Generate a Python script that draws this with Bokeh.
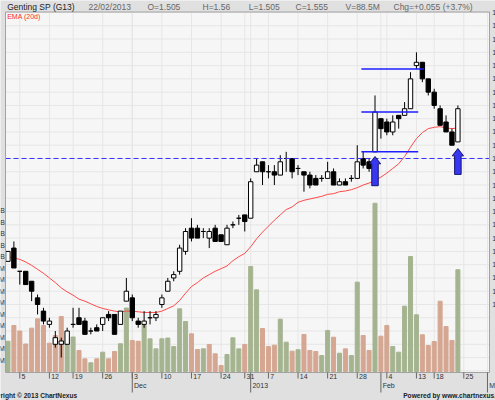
from bokeh.plotting import figure
from bokeh.models import Range1d, Grid
from bokeh.core.properties import value
from bokeh.embed import file_html
from bokeh.resources import INLINE

# ---------------- data ----------------
trade_dates = [
    "2012-11-01", "2012-11-02", "2012-11-05", "2012-11-06", "2012-11-07", "2012-11-08", "2012-11-09",
    "2012-11-12", "2012-11-14", "2012-11-15", "2012-11-16", "2012-11-19", "2012-11-20", "2012-11-21",
    "2012-11-22", "2012-11-23", "2012-11-26", "2012-11-27", "2012-11-28", "2012-11-29", "2012-11-30",
    "2012-12-03", "2012-12-04", "2012-12-05", "2012-12-06", "2012-12-07", "2012-12-10", "2012-12-11",
    "2012-12-12", "2012-12-13", "2012-12-14", "2012-12-17", "2012-12-18", "2012-12-19", "2012-12-20",
    "2012-12-21", "2012-12-24", "2012-12-26", "2012-12-27", "2012-12-28", "2012-12-31", "2013-01-02",
    "2013-01-03", "2013-01-04", "2013-01-07", "2013-01-08", "2013-01-09", "2013-01-10", "2013-01-11",
    "2013-01-14", "2013-01-15", "2013-01-16", "2013-01-17", "2013-01-18", "2013-01-21", "2013-01-22",
    "2013-01-23", "2013-01-24", "2013-01-25", "2013-01-28", "2013-01-29", "2013-01-30", "2013-01-31",
    "2013-02-01", "2013-02-04", "2013-02-05", "2013-02-06", "2013-02-07", "2013-02-08", "2013-02-13",
    "2013-02-14", "2013-02-15", "2013-02-18", "2013-02-19", "2013-02-20", "2013-02-21", "2013-02-22",
]
future_dates = ["2013-02-25", "2013-02-26", "2013-02-27", "2013-02-28", "2013-03-01"]

opens = [
    1.325, 1.345, 1.31, 1.31, 1.295, 1.27, 1.25, 1.23, 1.20, 1.20, 1.20, 1.23, 1.24, 1.235,
    1.22, 1.225, 1.23, 1.245, 1.245, 1.23, 1.265, 1.27, 1.235, 1.23, 1.24, 1.24, 1.26, 1.28,
    1.30, 1.31, 1.34, 1.375, 1.375, 1.37, 1.36, 1.375, 1.365, 1.35, 1.38, 1.39, 1.395, 1.39,
    1.46, 1.475, 1.46, 1.46, 1.455, 1.48, 1.48, 1.465, 1.46, 1.455, 1.45, 1.45, 1.45, 1.46,
    1.44, 1.445, 1.45, 1.45, 1.48, 1.475, 1.49, 1.54, 1.535, 1.52, 1.545, 1.545, 1.555, 1.62,
    1.625, 1.60, 1.58, 1.555, 1.535, 1.52, 1.505,
]
highs = [
    1.34, 1.355, 1.31, 1.31, 1.295, 1.275, 1.255, 1.24, 1.22, 1.21, 1.225, 1.255, 1.255, 1.24,
    1.225, 1.23, 1.24, 1.25, 1.245, 1.25, 1.30, 1.275, 1.24, 1.25, 1.25, 1.25, 1.275, 1.30,
    1.31, 1.35, 1.375, 1.39, 1.38, 1.375, 1.375, 1.38, 1.365, 1.38, 1.385, 1.395, 1.395, 1.45,
    1.48, 1.475, 1.47, 1.47, 1.485, 1.49, 1.48, 1.47, 1.46, 1.46, 1.455, 1.455, 1.475, 1.465,
    1.45, 1.45, 1.455, 1.50, 1.49, 1.48, 1.575, 1.54, 1.54, 1.545, 1.545, 1.565, 1.61, 1.64,
    1.625, 1.60, 1.585, 1.56, 1.545, 1.525, 1.56,
]
lows = [
    1.325, 1.315, 1.29, 1.29, 1.265, 1.245, 1.23, 1.225, 1.195, 1.18, 1.20, 1.225, 1.23, 1.215,
    1.215, 1.22, 1.22, 1.235, 1.215, 1.23, 1.265, 1.235, 1.225, 1.225, 1.23, 1.235, 1.255, 1.28,
    1.295, 1.305, 1.335, 1.355, 1.36, 1.36, 1.345, 1.355, 1.355, 1.35, 1.375, 1.38, 1.37, 1.39,
    1.46, 1.44, 1.45, 1.44, 1.455, 1.46, 1.45, 1.455, 1.43, 1.435, 1.44, 1.445, 1.45, 1.44,
    1.44, 1.44, 1.445, 1.45, 1.465, 1.46, 1.49, 1.51, 1.515, 1.515, 1.525, 1.545, 1.555, 1.615,
    1.595, 1.575, 1.555, 1.53, 1.52, 1.50, 1.505,
]
closes = [
    1.34, 1.315, 1.31, 1.29, 1.28, 1.26, 1.235, 1.235, 1.21, 1.205, 1.22, 1.23, 1.23, 1.215,
    1.22, 1.22, 1.24, 1.24, 1.215, 1.25, 1.28, 1.24, 1.23, 1.235, 1.24, 1.245, 1.27, 1.295,
    1.305, 1.345, 1.37, 1.36, 1.36, 1.37, 1.37, 1.355, 1.355, 1.375, 1.38, 1.39, 1.385, 1.445,
    1.47, 1.46, 1.46, 1.455, 1.475, 1.48, 1.46, 1.465, 1.455, 1.44, 1.44, 1.45, 1.46, 1.44,
    1.445, 1.44, 1.45, 1.475, 1.47, 1.465, 1.55, 1.525, 1.52, 1.535, 1.54, 1.555, 1.60, 1.625,
    1.60, 1.58, 1.56, 1.53, 1.52, 1.50, 1.555,
]
volume_m = [
    26.3, 40.0, 35.2, 23.9, 37.7, 45.8, 40.0, 24.6, 31.3, 47.8, 33.5, 30.0, 18.3, 11.0,
    7.6, 11.0, 16.8, 11.0, 17.4, 24.1, 55.2, 27.0, 26.3, 40.0, 28.4, 19.7, 28.4, 29.1,
    21.7, 54.5, 43.5, 32.8, 19.1, 19.7, 23.5, 15.4, 5.2, 14.8, 29.3, 19.7, 23.5, 91.3,
    71.0, 37.4, 21.7, 22.9, 45.5, 25.5, 17.7, 18.9, 32.2, 18.3, 17.4, 13.9, 35.7, 29.8,
    15.9, 19.7, 13.9, 77.7, 31.3, 18.3, 146.3, 30.7, 40.0, 21.7, 16.8, 56.8, 100.0, 49.3,
    31.9, 22.6, 26.1, 61.1, 39.1, 27.0, 88.5,
]
ema20 = [
    1.332, 1.330, 1.328, 1.324, 1.319, 1.313, 1.307, 1.300, 1.293, 1.285, 1.279, 1.274, 1.268, 1.265,
    1.261, 1.257, 1.254, 1.252, 1.250, 1.249, 1.250, 1.250, 1.249, 1.248, 1.248, 1.248, 1.250, 1.254,
    1.258, 1.266, 1.277, 1.287, 1.293, 1.300, 1.305, 1.310, 1.314, 1.318, 1.326, 1.332, 1.337, 1.347,
    1.359, 1.369, 1.378, 1.387, 1.395, 1.403, 1.407, 1.414, 1.417, 1.419, 1.421, 1.423, 1.426, 1.427,
    1.430, 1.431, 1.433, 1.436, 1.440, 1.443, 1.447, 1.452, 1.458, 1.465, 1.472, 1.483, 1.497, 1.510,
    1.519, 1.525, 1.527, 1.528, 1.526, 1.525, 1.526,
]

week_tick_dates = ["2012-11-05", "2012-11-12", "2012-11-19", "2012-11-26", "2012-12-03", "2012-12-10",
                   "2012-12-17", "2012-12-24", "2012-12-31", "2013-01-07", "2013-01-14", "2013-01-21",
                   "2013-01-28", "2013-02-04", "2013-02-13", "2013-02-18", "2013-02-25"]
week_tick_labels = ["5", "12", "19", "26", "3", "10", "17", "24", "31", "7", "14", "21", "28", "4",
                    "13", "18", "25"]
month_tick_dates = ["2012-12-03", "2013-01-02", "2013-02-01", "2013-03-01"]
month_tick_labels = ["Dec", "2013", "Feb", "Mar"]

price_ticks = [1.26, 1.28, 1.30, 1.32, 1.34, 1.36, 1.38, 1.40, 1.42, 1.44, 1.46, 1.48,
               1.50, 1.52, 1.54, 1.56, 1.58, 1.60, 1.62, 1.64, 1.66, 1.68, 1.70]
grid_prices = [1.16, 1.18, 1.20, 1.22, 1.24] + price_ticks
volume_ticks = [10, 20, 30, 40, 50, 60, 70, 80, 90, 100, 110, 120, 130, 140]
volume_tick_labels = ["10M", "20M", "30M", "40M", "50M", "60M", "70M", "80M", "90M",
                      "0.10B", "0.11B", "0.12B", "0.13B", "0.14B"]

support_level = 1.48
level_prices = [1.615, 1.55, 1.49]
level_start_date = ["2013-01-29", "2013-01-29", "2013-01-29"]
level_end_date = ["2013-02-14", "2013-02-13", "2013-02-13"]
arrow_dates = ["2013-01-31", "2013-02-22"]
arrow_tips = [1.483, 1.495]
arrow_bases = [1.439, 1.456]

symbol = "Genting SP (G13)"
last_date = "22/02/2013"

# ---------------- geometry of the canvas (pixels of the 495x400 picture) ----------------
W, H = 495, 400
X0_PX, DX_PX = 19.3, 5.92          # pixel of first Monday tick (position 2), pixels per trading day
Y_170, PX_PER_PRICE = 12.0, 663.6  # pixel of price 1.70, pixels per 1.00 of price
VOL_BASE_PX, PX_PER_M = 371.0, 1.15
FRAME = (5.0, 489.0, 11.5, 372.0)  # left, right, top, bottom of the plot panel


def xd(px):
    return (px - X0_PX) / DX_PX + 2


def yd(py):
    return 1.70 - (py - Y_170) / PX_PER_PRICE


def vd(py):
    return (VOL_BASE_PX - py) / PX_PER_M


# ---------------- derived ----------------
all_dates = trade_dates + future_dates
pos = {d: i for i, d in enumerate(all_dates)}
x = [pos[d] for d in trade_dates]
n = len(x)
body_top = [max(o, c) for o, c in zip(opens, closes)]
body_bot = [min(o, c) for o, c in zip(opens, closes)]
body_fill = ["black" if c < o else "white" for o, c in zip(opens, closes)]
GREEN, BROWN = "#a5b490", "#d5a792"
vol_color = [GREEN] + [GREEN if closes[i] > closes[i - 1] else BROWN for i in range(1, n)]
week_pos = [pos[d] for d in week_tick_dates]
month_pos = [pos[d] for d in month_tick_dates]

FONT = "Liberation Sans"
fl, fr, ft, fb = xd(FRAME[0]), xd(FRAME[1]), yd(FRAME[2]), yd(FRAME[3])

p = figure(width=W, height=H,
           x_range=Range1d(xd(0), xd(W)), y_range=Range1d(yd(H), yd(0)),
           output_backend="svg", toolbar_location=None,
           x_axis_location=None, y_axis_location=None,
           min_border_left=0, min_border_right=0, min_border_top=0, min_border_bottom=0,
           background_fill_color="#e0e0e0", border_fill_color="#e0e0e0",
           outline_line_color=None)
p.extra_y_ranges = {"vol": Range1d(vd(H), vd(0))}
p.center = [r for r in p.center if not isinstance(r, Grid)]

# plot panel and its grid
p.quad(left=[fl], right=[fr], bottom=[fb], top=[ft], fill_color="#f6f6f6", line_color=None,
       level="underlay")
p.segment(x0=[fl] * len(grid_prices), x1=[fr] * len(grid_prices), y0=grid_prices, y1=grid_prices,
          line_color="#e6e6e6", line_width=1, level="underlay")
vg = week_pos + month_pos
p.segment(x0=vg, x1=vg, y0=[fb] * len(vg), y1=[ft] * len(vg),
          line_color="#e6e6e6", line_width=1, level="underlay")

# volume
p.vbar(x=x, width=0.68, top=volume_m, bottom=0, y_range_name="vol",
       fill_color=vol_color, line_color=vol_color)
# EMA
p.line(x, ema20, line_color="#ff4a4a", line_width=1)
# candles
p.segment(x0=x, y0=highs, x1=x, y1=lows, line_color="black", line_width=1)
p.vbar(x=x, width=0.74, top=body_top, bottom=body_bot, fill_color=body_fill,
       line_color="black", line_width=1)

# support line, levels and arrows
p.segment(x0=[fl], x1=[fr], y0=[support_level], y1=[support_level],
          line_color="#3434ff", line_dash="5 3", line_width=1)
p.segment(x0=[pos[d] - 0.3 for d in level_start_date], y0=level_prices,
          x1=[pos[d] + 0.3 for d in level_end_date], y1=level_prices,
          line_color="#1e1eff", line_width=1.5)
axs, ays = [], []
for d, t, b in zip(arrow_dates, arrow_tips, arrow_bases):
    c = pos[d]
    hl, hw, sw = 0.011, 0.95, 0.55
    axs.append([c, c + hw, c + sw, c + sw, c - sw, c - sw, c - hw])
    ays.append([t, t - hl, t - hl, b, b, t - hl, t - hl])
p.patches(axs, ays, fill_color="#3838f2", line_color="#16166e", line_width=1)

# frame border
p.quad(left=[fl], right=[fr], bottom=[fb], top=[ft], fill_alpha=0, line_color="#a2a2a2")

# date axis: ticks and labels
p.segment(x0=week_pos, x1=week_pos, y0=[fb] * len(week_pos), y1=[yd(378)] * len(week_pos),
          line_color="#666666", line_width=1)
p.segment(x0=month_pos, x1=month_pos, y0=[fb] * len(month_pos), y1=[yd(392)] * len(month_pos),
          line_color="#666666", line_width=1)
p.text(x=[w + 0.3 for w in week_pos], y=[yd(375.7)] * len(week_pos), text=week_tick_labels,
       text_font=value(FONT), text_font_size=value("7px"), text_color="#333333",
       text_align="left", text_baseline="middle")
p.text(x=[m + 0.3 for m in month_pos], y=[yd(384.6)] * len(month_pos), text=month_tick_labels,
       text_font=value(FONT), text_font_size=value("7px"), text_color="#333333",
       text_align="left", text_baseline="middle")

# price labels at the right edge, volume labels at the left edge
p.text(x=[xd(491.7)] * len(price_ticks), y=price_ticks, text=[f"{t:.2f}" for t in price_ticks],
       text_font=value(FONT), text_font_size=value("7px"), text_color="#333333",
       text_align="left", text_baseline="middle")
p.text(x=[xd(4.4)] * len(volume_ticks), y=volume_ticks, text=volume_tick_labels,
       y_range_name="vol", text_font=value(FONT), text_font_size=value("7px"),
       text_color="#333333", text_align="right", text_baseline="middle")

# header
last = n - 1
chg = closes[last] - closes[last - 1]
header_text = [symbol, last_date, f"O={opens[last]:.3f}", f"H={highs[last]:.2f}",
               f"L={lows[last]:.3f}", f"C={closes[last]:.3f}", f"V={volume_m[last]:.1f}M",
               f"Chg={chg:+.3f} ({chg / closes[last - 1] * 100:+.1f}%)"]
header_px = [6.7, 88.0, 147.0, 202.0, 248.3, 295.0, 345.0, 393.0]
header_col = ["#222222"] + ["#666666"] * 7
p.text(x=[xd(v) for v in header_px], y=[yd(6.3)] * len(header_px), text=header_text,
       text_font=value(FONT), text_font_size=value("8.5px"), text_color=header_col,
       text_align="left", text_baseline="middle")
p.text(x=[xd(6.7)], y=[yd(16.0)], text=["EMA (20d)"], text_font=value(FONT),
       text_font_size=value("7px"), text_color="#ff2a2a", text_align="left",
       text_baseline="middle")

# footer
p.text(x=[xd(-16.5), xd(402.7)], y=[yd(395.3)] * 2,
       text=["Copyright \u00a9 2013 ChartNexus", "Powered by www.chartnexus.com"],
       text_font=value(FONT), text_font_size=value("6.6px"), text_font_style="bold",
       text_color="#222222", text_align="left", text_baseline="middle")

open("out.html", "w").write(file_html(p, INLINE))
